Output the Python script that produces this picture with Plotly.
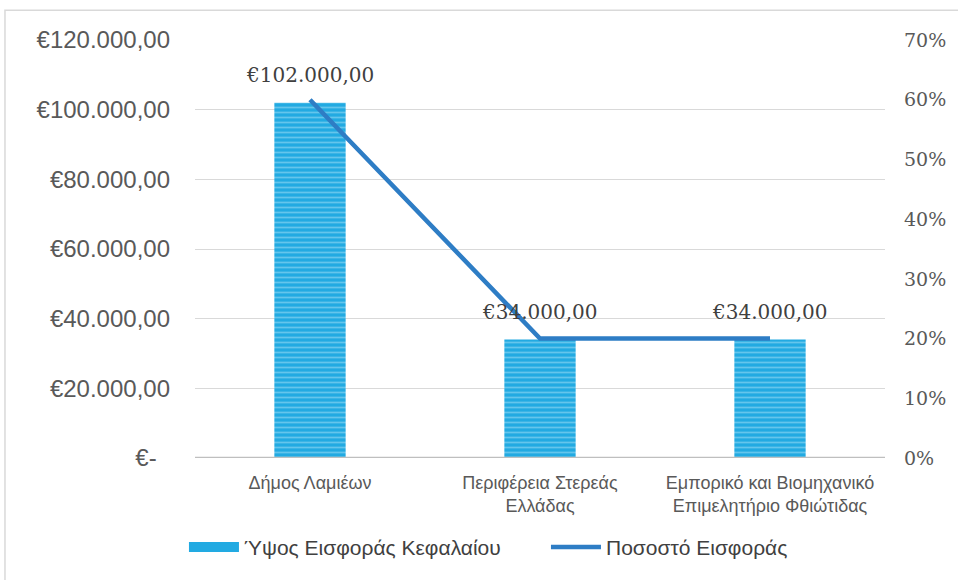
import plotly.graph_objects as go

categories = ["Δήμος Λαμιέων", "Περιφέρεια Στερεάς<br>Ελλάδας", "Εμπορικό και Βιομηχανικό<br>Επιμελητήριο Φθιώτιδας"]
contribution = [102000, 34000, 34000]
contribution_labels = ["€102.000,00", "€34.000,00", "€34.000,00"]
percentage = [0.60, 0.20, 0.20]

left_tickvals = [0, 20000, 40000, 60000, 80000, 100000, 120000]
left_ticktext = ["€-\u00a0\u00a0", "€20.000,00", "€40.000,00", "€60.000,00", "€80.000,00", "€100.000,00", "€120.000,00"]
right_tickvals = [0, 0.1, 0.2, 0.3, 0.4, 0.5, 0.6, 0.7]
right_ticktext = ["0%", "10%", "20%", "30%", "40%", "50%", "60%", "70%"]

BAR = "#22AAE2"
LINE = "#2E7DC5"

fig = go.Figure()
fig.add_trace(go.Bar(
    x=categories, y=contribution, name="Ύψος Εισφοράς Κεφαλαίου", showlegend=False,
    marker=dict(color=BAR, line=dict(width=0),
                pattern=dict(shape="-", fgcolor="#A6DFF6", bgcolor=BAR, size=5, solidity=0.35)),
    width=0.31, yaxis="y",
))
# legend entry for bars (wide swatch)
fig.add_trace(go.Scatter(
    x=[None], y=[None], name="Ύψος Εισφοράς Κεφαλαίου", mode="lines",
    line=dict(color=BAR, width=11), yaxis="y",
))
fig.add_trace(go.Scatter(
    x=categories, y=percentage, name="Ποσοστό Εισφοράς", mode="lines",
    line=dict(color=LINE, width=4.5), yaxis="y2",
))

for c, v, t in zip(categories, contribution, contribution_labels):
    fig.add_annotation(x=c, y=v, xref="x", yref="y", text=t, showarrow=False,
                       yanchor="bottom", yshift=14,
                       font=dict(family="DejaVu Serif", size=20, color="#404040"))

fig.update_layout(
    width=958, height=580,
    margin=dict(l=195, r=73, t=40, b=120),
    paper_bgcolor="white", plot_bgcolor="white",
    font=dict(family="Liberation Sans, Arial", color="#595959"),
    xaxis=dict(showgrid=False, showline=False, ticks="", tickfont=dict(size=18, color="#595959"),
               zeroline=False, ticklabelstandoff=12),
    yaxis=dict(range=[0, 120000], tickvals=left_tickvals, ticktext=left_ticktext,
               showgrid=True, gridcolor="#D9D9D9", gridwidth=1, zeroline=False,
               tickfont=dict(size=24, color="#595959", family="Liberation Sans, Arial"),
               ticklabelstandoff=24, showline=False),
    yaxis2=dict(range=[0, 0.7], tickvals=right_tickvals, ticktext=right_ticktext,
                overlaying="y", side="right", showgrid=False, zeroline=False,
                tickfont=dict(size=19, color="#595959", family="DejaVu Serif"),
                ticklabelstandoff=18),
    legend=dict(orientation="h", x=-0.016, xanchor="left", y=-0.214, yanchor="middle",
                font=dict(size=21, color="#404040"), itemwidth=50, tracegroupgap=0,
                entrywidth=297, entrywidthmode="pixels"),
    showlegend=True,
)

# baseline axis line
fig.add_shape(type="line", xref="paper", yref="y", x0=0, x1=1, y0=0, y1=0,
              line=dict(color="#BFBFBF", width=2.5), layer="above")
# chart frame
fig.add_shape(type="rect", xref="paper", yref="paper", x0=-0.2754, x1=1.12, y0=-0.31, y1=1.0714,
              line=dict(color="#D9D9D9", width=1.5), layer="below")

fig.write_html("out.html", config={"displayModeBar": False},
               post_script="document.body.style.margin='0';")
